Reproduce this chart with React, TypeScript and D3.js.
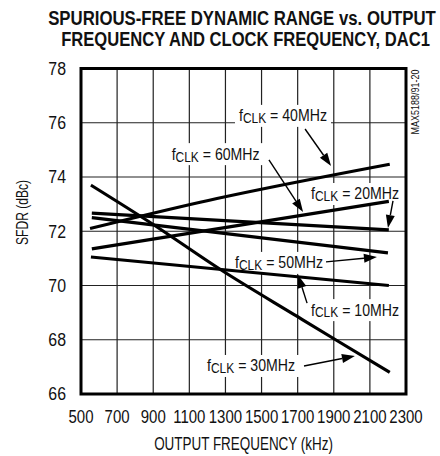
import React, { useEffect, useRef } from "react";
import * as d3 from "d3";

const xTicks = [500, 700, 900, 1100, 1300, 1500, 1700, 1900, 2100, 2300];
const yTicks = [66, 68, 70, 72, 74, 76, 78];

const clk10: [number, number][] = [[555, 71.05], [2205, 70.0]];
const clk20: [number, number][] = [[560, 72.67], [2205, 72.05]];
const clk30: [number, number][] = [[555, 73.7], [900, 72.25], [1270, 70.6], [1700, 68.85], [1910, 68.0], [2210, 66.8]];
const clk40: [number, number][] = [[550, 72.1], [1160, 73.07], [2210, 74.47]];
const clk50: [number, number][] = [[560, 72.5], [2200, 71.2]];
const clk60: [number, number][] = [[560, 71.35], [2205, 73.1]];

const seriesList = [clk10, clk20, clk30, clk40, clk50, clk60];

const labelNames = ["40MHz", "60MHz", "20MHz", "50MHz", "10MHz", "30MHz"];
const labelPos: [number, number][] = [[1375, 76.29], [1002, 74.88], [1774, 73.41], [1353, 70.87], [1774, 69.13], [1198, 67.07]];
const arrowFrom: [number, number][] = [[1741, 75.77], [1541, 74.63], [2228, 73.12], [1857, 70.87], [1752, 69.35], [1735, 67.03]];
const arrowTo: [number, number][] = [[1885, 74.41], [1730, 72.71], [2200, 72.12], [2139, 71.05], [1702, 70.39], [2017, 67.4]];

const titleLines = ["SPURIOUS-FREE DYNAMIC RANGE vs. OUTPUT", "FREQUENCY AND CLOCK FREQUENCY, DAC1"];
const xTitle = "OUTPUT FREQUENCY (kHz)";
const yTitle = "SFDR (dBc)";
const sideNote = "MAX5188/91-20";

const FONT = "'Liberation Sans', Arial, sans-serif";

type Sel = d3.Selection<any, unknown, null, undefined>;

// text drawn in a horizontally compressed group; width = target width if given, else sx scale
function addText(
  parent: Sel, str: string, x: number, y: number, size: number,
  anchor: "start" | "middle" | "end", opts: { width?: number; sx?: number; bold?: boolean; rotate?: number } = {}
) {
  const g = parent.append("g");
  const t = g.append("text").text(str)
    .attr("x", 0).attr("y", 0)
    .attr("text-anchor", anchor).attr("dominant-baseline", "central")
    .attr("font-family", FONT).attr("font-size", size)
    .attr("font-weight", opts.bold ? "bold" : "normal").attr("fill", "#111");
  let sx = opts.sx ?? 0.82;
  if (opts.width) {
    const w = (t.node() as SVGTextElement).getComputedTextLength();
    sx = opts.width / w;
  }
  g.attr("transform", `translate(${x},${y})${opts.rotate ? ` rotate(${opts.rotate})` : ""} scale(${sx},1)`);
  return g;
}

export default function App() {
  const ref = useRef<SVGSVGElement>(null);
  useEffect(() => {
    const svg = d3.select(ref.current) as unknown as Sel;
    svg.selectAll("*").remove();
    const x = d3.scaleLinear().domain([500, 2300]).range([81, 406]);
    const y = d3.scaleLinear().domain([66, 78]).range([394, 68.5]);

    // title
    const tW = [388, 369];
    const tC = [242, 245.5];
    const tY = [17.5, 38.5];
    titleLines.forEach((t, i) => addText(svg, t, tC[i], tY[i], 20.5, "middle", { width: tW[i], bold: true }));

    // grid
    const g = svg.append("g");
    xTicks.forEach((v) => {
      g.append("line").attr("x1", x(v)).attr("x2", x(v)).attr("y1", y(66)).attr("y2", y(78))
        .attr("stroke", "#222").attr("stroke-width", 1.2);
    });
    yTicks.forEach((v) => {
      g.append("line").attr("y1", y(v)).attr("y2", y(v)).attr("x1", x(500)).attr("x2", x(2300))
        .attr("stroke", "#222").attr("stroke-width", 1.2);
    });

    const bgLayer = svg.append("g");
    const lineLayer = svg.append("g");
    const textLayer = svg.append("g");

    labelNames.forEach((name, i) => {
      const [f, v] = labelPos[i];
      const lg = textLayer.append("g");
      const t = lg.append("text")
        .attr("x", 0).attr("y", 0)
        .attr("dominant-baseline", "central")
        .attr("font-family", FONT).attr("font-size", 16.5).attr("fill", "#111");
      t.append("tspan").text("f");
      t.append("tspan").text("CLK").attr("font-size", 14).attr("dy", 3);
      t.append("tspan").text(" = " + name).attr("dy", -3);
      const bb = (t.node() as SVGTextElement).getBBox();
      const sx = 88 / bb.width;
      lg.attr("transform", `translate(${x(f)},${y(v)}) scale(${sx},1)`);
      bgLayer.append("rect")
        .attr("x", x(f) - 4).attr("y", y(v) + bb.y - 1).attr("width", bb.width * sx + 8).attr("height", bb.height + 2)
        .attr("fill", "white");
    });

    const line = d3.line<[number, number]>().x((d) => x(d[0])).y((d) => y(d[1])).curve(d3.curveMonotoneX);
    seriesList.forEach((s) => {
      lineLayer.append("path").attr("d", line(s)!).attr("fill", "none")
        .attr("stroke", "#000").attr("stroke-width", 3.2).attr("stroke-linecap", "butt");
    });

    arrowFrom.forEach((a, i) => {
      const x1 = x(a[0]), y1 = y(a[1]);
      const x2 = x(arrowTo[i][0]), y2 = y(arrowTo[i][1]);
      const ang = Math.atan2(y2 - y1, x2 - x1);
      const L = 13, W = 4.5;
      const bx = x2 - L * Math.cos(ang), by = y2 - L * Math.sin(ang);
      textLayer.append("line").attr("x1", x1).attr("y1", y1).attr("x2", bx).attr("y2", by)
        .attr("stroke", "#000").attr("stroke-width", 1.4);
      const px = -Math.sin(ang) * W, py = Math.cos(ang) * W;
      textLayer.append("path")
        .attr("d", `M${x2},${y2}L${bx + px},${by + py}L${bx - px},${by - py}Z`)
        .attr("fill", "#000");
    });

    svg.append("rect").attr("x", x(500)).attr("y", y(78)).attr("width", x(2300) - x(500)).attr("height", y(66) - y(78))
      .attr("fill", "none").attr("stroke", "#000").attr("stroke-width", 3);

    yTicks.forEach((v) => addText(svg, String(v), 66, y(v), 18.5, "end", { sx: 0.86 }));
    xTicks.forEach((v) => addText(svg, String(v), x(v), 416.5, 18.5, "middle", { sx: 0.81 }));
    addText(svg, xTitle, 243.5, 443, 18.5, "middle", { width: 179 });
    addText(svg, yTitle, 22, 212.5, 16, "middle", { width: 65, rotate: -90 });
    addText(svg, sideNote, 415, 102, 10, "middle", { width: 65, rotate: -90 });
  }, []);

  return (
    <svg ref={ref} width={440} height={456} style={{ position: "absolute", left: 0, top: 0, background: "white" }} />
  );
}
